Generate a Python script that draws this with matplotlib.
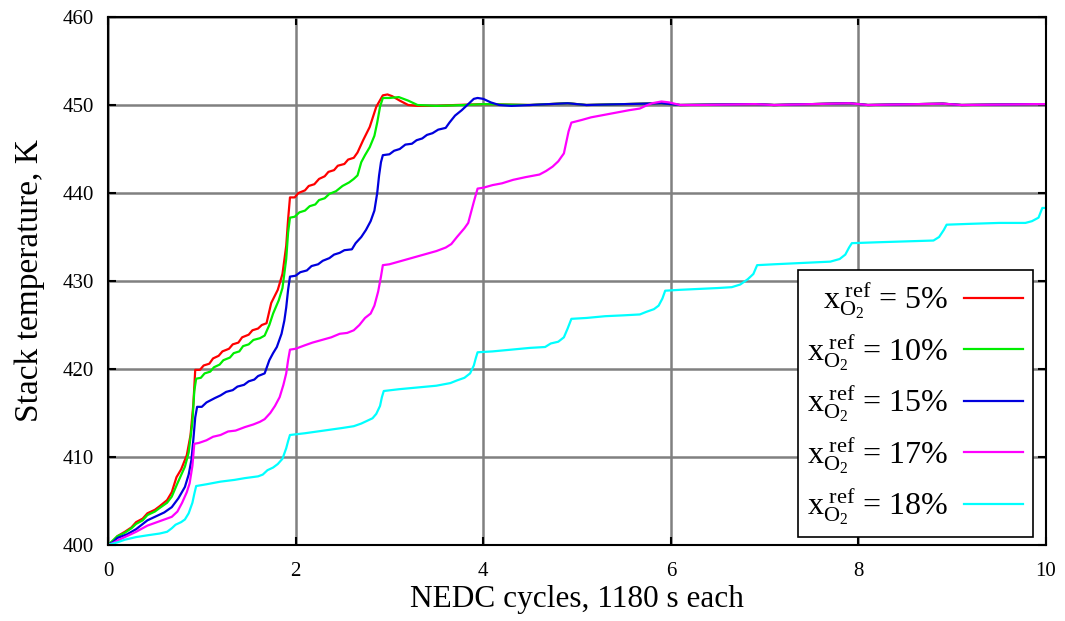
import matplotlib
matplotlib.use("Agg")
import matplotlib.pyplot as plt

plt.rcParams['font.family'] = ['Liberation Serif', 'DejaVu Serif']
plt.rcParams['mathtext.fontset'] = 'custom'
plt.rcParams['mathtext.rm'] = 'Liberation Serif'
plt.rcParams['mathtext.it'] = 'Liberation Serif:italic'

# NEDC cycles (x) and stack temperature in K (y)
x_5 = [0, 0.05, 0.1, 0.18, 0.25, 0.3, 0.37, 0.42, 0.5, 0.55, 0.63, 0.68, 0.73, 0.78, 0.84, 0.88, 0.91, 0.93,
       0.98, 1.02, 1.08, 1.12, 1.18, 1.22, 1.29, 1.33, 1.39, 1.43, 1.5, 1.54, 1.6, 1.64, 1.69, 1.74, 1.81, 1.86,
       1.9, 1.92, 1.94, 1.99, 2.03, 2.1, 2.14, 2.2, 2.25, 2.31, 2.35, 2.41, 2.45, 2.52, 2.56, 2.62, 2.66, 2.72,
       2.79, 2.86, 2.93, 2.98, 3.03, 3.11, 3.2, 3.3, 3.5, 3.7, 4.0, 4.5, 4.9, 5.1, 5.9, 6.1, 6.9, 7.1, 7.9, 8.1,
       8.9, 9.1, 9.9, 10.0]
y_5 = [400, 400.4, 401.0, 401.5, 402.0, 402.6, 403.0, 403.6, 404.0, 404.4, 405.1, 406.0, 407.7, 408.6, 410.2,
       412.5, 416.0, 419.9, 419.9, 420.4, 420.6, 421.2, 421.5, 422.0, 422.3, 422.8, 423.0, 423.6, 423.9, 424.4,
       424.6, 425.0, 425.2, 427.5, 429.0, 430.8, 434.0, 437.0, 439.5, 439.5, 440.0, 440.3, 440.8, 441.0, 441.6,
       441.9, 442.4, 442.6, 443.1, 443.3, 443.8, 444.0, 444.6, 446.0, 447.5, 449.8, 451.1, 451.2, 451.0, 450.5,
       450.0, 449.9, 449.9, 450.0, 450.1, 450.0, 450.2, 450.0, 450.2, 450.0, 450.1, 450.0, 450.2, 450.0, 450.15,
       450.0, 450.1, 450.1]

x_10 = [0, 0.05, 0.1, 0.18, 0.25, 0.3, 0.37, 0.42, 0.5, 0.55, 0.63, 0.68, 0.74, 0.82, 0.86, 0.9, 0.92, 0.94,
        0.99, 1.03, 1.09, 1.13, 1.19, 1.23, 1.3, 1.34, 1.4, 1.44, 1.5, 1.55, 1.62, 1.67, 1.72, 1.76, 1.82, 1.86,
        1.9, 1.92, 1.94, 1.99, 2.04, 2.1, 2.15, 2.21, 2.25, 2.31, 2.36, 2.43, 2.5, 2.57, 2.62, 2.66, 2.7, 2.74,
        2.79, 2.84, 2.87, 2.9, 2.93, 3.0, 3.1, 3.2, 3.3, 3.5, 3.8, 4.0, 4.5, 4.9, 5.1, 5.9, 6.1, 6.9, 7.1, 7.9,
        8.1, 8.9, 9.1, 9.9, 10.0]
y_10 = [400, 400.5, 401.0, 401.4, 401.9, 402.4, 402.8, 403.4, 403.8, 404.2, 404.8, 405.5, 407.0, 408.9, 410.5,
        414.0, 417.5, 418.9, 419.0, 419.5, 419.7, 420.2, 420.5, 421.0, 421.3, 421.8, 422.0, 422.6, 422.8, 423.3,
        423.5, 423.8, 425.0, 426.3, 427.8, 429.2, 432.5, 435.5, 437.2, 437.3, 437.8, 438.0, 438.5, 438.7, 439.2,
        439.4, 439.9, 440.2, 440.8, 441.2, 441.6, 442.0, 443.5, 444.3, 445.2, 446.5, 448.0, 449.8, 450.8, 450.8,
        450.9, 450.5, 450.0, 449.9, 450.0, 450.1, 450.0, 450.2, 450.0, 450.2, 450.0, 450.1, 450.0, 450.2, 450.0,
        450.15, 450.0, 450.1, 450.1]

x_15 = [0, 0.05, 0.1, 0.2, 0.3, 0.42, 0.5, 0.6, 0.68, 0.75, 0.82, 0.86, 0.89, 0.91, 0.93, 0.95, 1.0, 1.05,
        1.14, 1.2, 1.26, 1.33, 1.38, 1.45, 1.5, 1.56, 1.6, 1.67, 1.72, 1.76, 1.8, 1.85, 1.88, 1.9, 1.92, 1.94,
        2.0, 2.05, 2.12, 2.17, 2.24, 2.29, 2.36, 2.41, 2.47, 2.52, 2.6, 2.64, 2.7, 2.75, 2.8, 2.84, 2.87, 2.89,
        2.91, 2.93, 3.0, 3.05, 3.11, 3.17, 3.24, 3.29, 3.35, 3.4, 3.46, 3.52, 3.6, 3.64, 3.7, 3.77, 3.84, 3.9,
        3.94, 4.0, 4.08, 4.17, 4.3, 4.5, 4.9, 5.1, 5.9, 6.1, 6.9, 7.1, 7.9, 8.1, 8.9, 9.1, 9.9, 10.0]
y_15 = [400, 400.3, 400.8, 401.2, 401.8, 402.8, 403.2, 403.7, 404.3, 405.3, 406.6, 408.0, 409.7, 412.0, 414.5,
        415.7, 415.7, 416.2, 416.7, 417.0, 417.4, 417.6, 418.0, 418.2, 418.6, 418.8, 419.2, 419.5, 421.0, 421.8,
        422.5, 424.0, 425.5, 427.0, 429.0, 430.5, 430.6, 431.0, 431.2, 431.7, 431.9, 432.3, 432.6, 433.0, 433.2,
        433.5, 433.6, 434.3, 435.0, 435.8, 436.8, 438.0, 440.0, 442.0, 443.5, 444.3, 444.4, 444.8, 445.0, 445.5,
        445.6, 446.0, 446.2, 446.6, 446.8, 447.2, 447.4, 448.0, 448.8, 449.4, 450.1, 450.7, 450.8, 450.7, 450.3,
        450.0, 449.9, 450.0, 450.2, 450.0, 450.2, 450.0, 450.1, 450.0, 450.2, 450.0, 450.15, 450.0, 450.1, 450.1]

x_17 = [0, 0.05, 0.12, 0.2, 0.3, 0.42, 0.55, 0.68, 0.74, 0.79, 0.84, 0.87, 0.9, 0.92, 0.97, 1.05, 1.12, 1.2,
        1.28, 1.36, 1.46, 1.55, 1.62, 1.67, 1.73, 1.78, 1.83, 1.87, 1.9, 1.92, 1.94, 2.0, 2.1, 2.18, 2.28, 2.38,
        2.47, 2.55, 2.62, 2.68, 2.74, 2.8, 2.84, 2.88, 2.91, 2.93, 3.0, 3.1, 3.2, 3.3, 3.4, 3.5, 3.6, 3.66, 3.72,
        3.8, 3.84, 3.87, 3.9, 3.94, 4.0, 4.1, 4.2, 4.32, 4.45, 4.6, 4.67, 4.74, 4.8, 4.86, 4.88, 4.91, 4.94, 5.05,
        5.15, 5.25, 5.35, 5.45, 5.55, 5.67, 5.73, 5.8, 5.9, 5.98, 6.1, 6.3, 6.9, 7.1, 7.9, 8.1, 8.9, 9.1, 9.9, 10.0]
y_17 = [400, 400.2, 400.6, 401.0, 401.5, 402.2, 402.7, 403.2, 403.8, 404.8, 406.0, 407.0, 409.0, 411.5, 411.6,
        411.9, 412.3, 412.5, 412.9, 413.0, 413.4, 413.7, 414.0, 414.3, 415.0, 415.8, 416.8, 418.2, 419.5, 421.0,
        422.2, 422.3, 422.7, 423.0, 423.3, 423.6, 424.0, 424.1, 424.4, 425.0, 425.8, 426.3, 427.2, 428.8, 430.5,
        431.8, 431.9, 432.2, 432.5, 432.8, 433.1, 433.4, 433.8, 434.2, 435.0, 436.0, 436.6, 437.8, 439.0, 440.5,
        440.6, 440.9, 441.1, 441.5, 441.8, 442.1, 442.5, 443.0, 443.6, 444.5, 445.5, 447.0, 448.0, 448.3, 448.6,
        448.8, 449.0, 449.2, 449.4, 449.6, 449.9, 450.2, 450.4, 450.3, 450.0, 450.0, 450.1, 450.0, 450.2, 450.0,
        450.15, 450.0, 450.1, 450.1]

x_18 = [0, 0.1, 0.18, 0.3, 0.42, 0.55, 0.63, 0.68, 0.72, 0.78, 0.82, 0.86, 0.9, 0.92, 0.94, 1.05, 1.2, 1.35,
        1.46, 1.6, 1.65, 1.7, 1.76, 1.81, 1.86, 1.9, 1.92, 1.94, 2.1, 2.3, 2.5, 2.62, 2.7, 2.76, 2.82, 2.86, 2.9,
        2.92, 2.94, 3.1, 3.3, 3.5, 3.65, 3.72, 3.8, 3.86, 3.9, 3.92, 3.94, 4.1, 4.3, 4.5, 4.66, 4.72, 4.8, 4.86,
        4.9, 4.94, 5.1, 5.3, 5.5, 5.67, 5.74, 5.82, 5.87, 5.91, 5.94, 6.1, 6.3, 6.5, 6.65, 6.74, 6.82, 6.88, 6.92,
        7.1, 7.3, 7.5, 7.7, 7.8, 7.86, 7.9, 7.93, 8.2, 8.5, 8.8, 8.86, 8.91, 8.94, 9.2, 9.5, 9.78, 9.85, 9.92,
        9.96, 10.0]
y_18 = [400, 400.3, 400.6, 400.9, 401.1, 401.3, 401.5, 401.9, 402.3, 402.6, 402.9, 403.6, 404.8, 405.8, 406.7,
        406.9, 407.2, 407.4, 407.6, 407.8, 408.0, 408.5, 408.8, 409.2, 409.8, 411.0, 411.8, 412.5, 412.7, 413.0,
        413.3, 413.5, 413.8, 414.1, 414.4, 414.9, 415.8, 416.8, 417.5, 417.7, 417.9, 418.1, 418.4, 418.7, 419.0,
        419.5, 420.4, 421.2, 421.9, 422.0, 422.2, 422.4, 422.5, 422.9, 423.1, 423.6, 424.6, 425.7, 425.8, 426.0,
        426.1, 426.2, 426.5, 426.8, 427.2, 428.0, 428.9, 429.0, 429.1, 429.2, 429.3, 429.6, 430.2, 430.8, 431.8,
        431.9, 432.0, 432.1, 432.2, 432.5, 433.0, 433.8, 434.3, 434.4, 434.5, 434.6, 435.0, 435.8, 436.4, 436.5,
        436.6, 436.6, 436.8, 437.2, 438.3, 438.3]

labels = ["5%", "10%", "15%", "17%", "18%"]
colors = ["#ff0000", "#00ee00", "#0000dd", "#ff00ff", "#00ffff"]
series = [(x_5, y_5), (x_10, y_10), (x_15, y_15), (x_17, y_17), (x_18, y_18)]

fig = plt.figure(figsize=(10.65, 6.21), dpi=100)
ax = fig.add_axes([0.1014, 0.1224, 0.8808, 0.8502])

for (xs, ys), lab, c in zip(series, labels, colors):
    ax.plot(xs, ys, color=c, lw=1.6,
            label=r"$\mathrm{x}_{\mathrm{O}_2}^{\ \mathrm{ref}}$ = " + lab)

ax.set_xlim(0, 10)
ax.set_ylim(400, 460)
ax.set_xticks(range(0, 11, 2))
ax.set_yticks(range(400, 461, 10))
ax.grid(True, color="#808080", lw=1.8)
ax.set_axisbelow(True)
ax.tick_params(direction="in", length=6, width=1.5, top=True, right=True, labelsize=15)
ax.tick_params(axis="x", pad=12)
ax.tick_params(axis="y", pad=10)
for sp in ax.spines.values():
    sp.set_linewidth(1.5)

ax.set_xlabel("NEDC cycles, 1180 s each", fontsize=22.5, labelpad=3)
ax.set_ylabel("Stack temperature, K", fontsize=24, labelpad=13)

leg = ax.legend(loc="lower right", bbox_to_anchor=(0.986, 0.015), borderaxespad=0,
                markerfirst=False, fancybox=False, fontsize=23, handlelength=1.85,
                labelspacing=0.3, borderpad=0.3, handletextpad=0.5, framealpha=1)
leg.get_frame().set_edgecolor("black")
leg.get_frame().set_linewidth(1.2)

plt.savefig("out.png", dpi=100)
